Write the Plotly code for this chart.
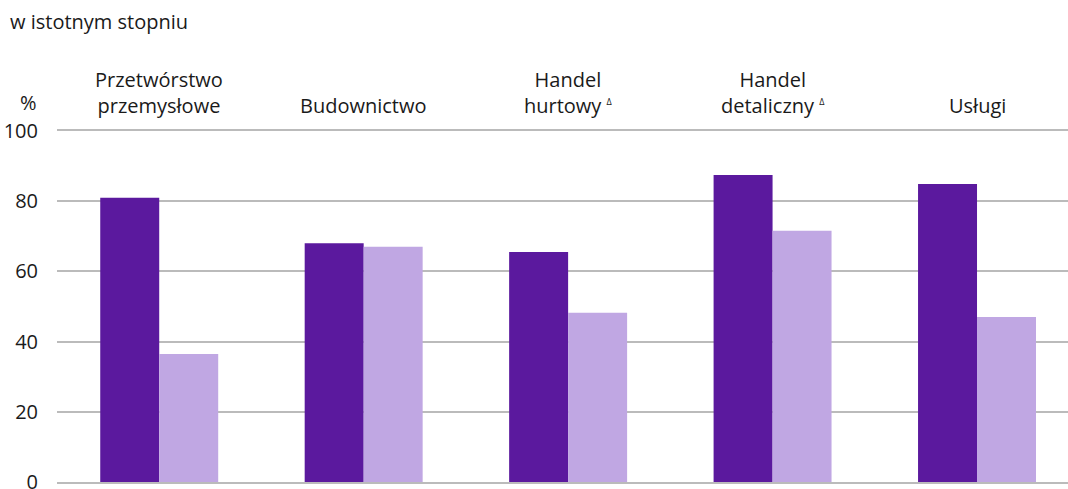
import plotly.graph_objects as go

categories = ["Przetwórstwo<br>przemysłowe", "Budownictwo", "Handel<br>hurtowy <sup><span style='font-size:9px'>Δ</span></sup>",
              "Handel<br>detaliczny <sup><span style='font-size:9px'>Δ</span></sup>", "Usługi"]
series_a = [81.0, 68.0, 65.5, 87.5, 84.9]
series_b = [36.5, 67.0, 48.2, 71.6, 47.0]
y_ticks = [0, 20, 40, 60, 80, 100]

DARK = "#5B199E"
LIGHT = "#C0A7E3"
GRID = "#BBBBBB"
TEXT = "#1a1a1a"
FONT = "Open Sans"
FS = 20

x_pos = list(range(len(categories)))

fig = go.Figure()
fig.add_trace(go.Bar(x=x_pos, y=series_a, marker=dict(color=DARK, line=dict(width=0)), showlegend=False))
fig.add_trace(go.Bar(x=x_pos, y=series_b, marker=dict(color=LIGHT, line=dict(width=0)), showlegend=False))

for xi, label in zip(x_pos, categories):
    fig.add_annotation(x=xi, y=100, xref="x", yref="y", text=label, showarrow=False,
                       yanchor="bottom", yshift=10, font=dict(family=FONT, size=FS, color=TEXT))

fig.add_annotation(x=(28 - 57) / 1011, y=1.08, xref="paper", yref="paper", text="%", showarrow=False,
                   xanchor="center", yanchor="middle", font=dict(family=FONT, size=FS, color=TEXT))

fig.update_layout(
    width=1068, height=489,
    margin=dict(l=57, r=0, t=131, b=7),
    paper_bgcolor="white", plot_bgcolor="white",
    barmode="group", bargap=0.423, bargroupgap=0,
    font=dict(family=FONT, size=FS, color=TEXT),
    title=dict(text="w istotnym stopniu", xref="container", yref="container", x=10/1068, xanchor="left",
               y=1 - 22/489, yanchor="middle", font=dict(family=FONT, size=FS, color=TEXT)),
    xaxis=dict(range=[-0.5, 4.445], showticklabels=False, showgrid=False, zeroline=False,
               showline=True, mirror=True, linecolor=GRID, linewidth=2, ticks=""),
    yaxis=dict(range=[0, 100], tickvals=y_ticks, showgrid=True, gridcolor=GRID, gridwidth=2,
               zeroline=False, showline=False, ticklabelstandoff=18, ticklabeloverflow="allow",
               automargin=False, tickfont=dict(family=FONT, size=FS, color=TEXT)),
)
fig.write_html("out.html", config={"displayModeBar": False},
               post_script="document.body.style.margin='0';")
